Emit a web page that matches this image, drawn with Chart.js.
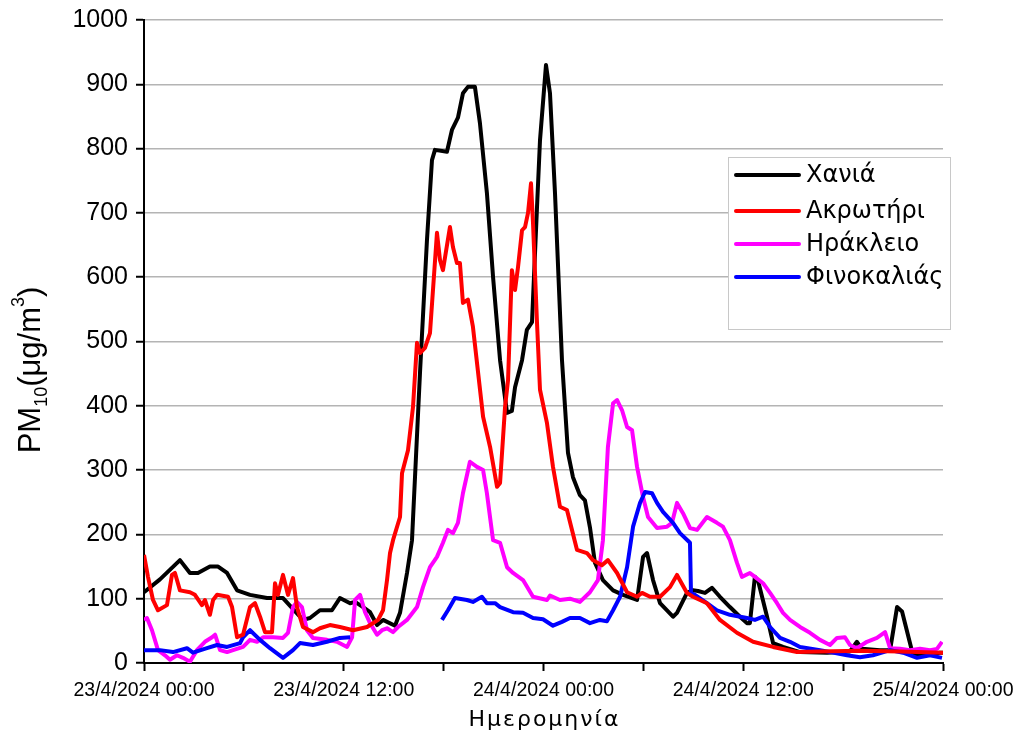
<!DOCTYPE html>
<html>
<head>
<meta charset="utf-8">
<script src="https://cdn.jsdelivr.net/npm/chart.js@4.4.1/dist/chart.umd.min.js"></script>
<style>
    html, body { margin: 0; padding: 0; background: #fff; }
    #wrap { width: 1016px; height: 742px; }
</style>
</head>
<body>
<div id="wrap"><canvas id="pmChart" width="1016" height="742"></canvas></div>
<script>
// ώρες από 23/4/2024 00:00
const chaniaX = [0, 0.96, 2.16, 2.76, 3.24, 3.96, 4.45, 4.99, 5.59, 6.37, 7.39, 8.35, 9.55, 9.97, 10.57, 11.29, 11.77, 12.38, 12.68, 13.16, 13.58, 14.0, 14.36, 15.08, 15.38, 15.8, 16.1, 16.58, 17.0, 17.3, 17.48, 18.2, 18.5, 18.86, 19.16, 19.46, 19.88, 20.18, 20.6, 20.97, 21.39, 21.81, 22.1, 22.29, 22.71, 23.0, 23.31, 23.61, 23.79, 24.15, 24.39, 24.69, 25.11, 25.47, 25.77, 26.19, 26.49, 26.79, 27.09, 27.57, 28.18, 28.78, 29.62, 29.98, 30.22, 30.58, 31.0, 31.78, 32.02, 32.62, 32.98, 33.28, 33.7, 34.12, 34.6, 35.2, 35.8, 36.22, 36.4, 36.7, 36.89, 37.43, 37.79, 38.39, 39.41, 41.03, 42.41, 42.83, 43.13, 44.21, 44.82, 45.24, 45.54, 46.2, 46.8, 47.82, 48];
const chaniaY = [110, 130, 160, 140, 140, 150, 150, 140, 113, 106, 101, 101, 67, 70, 82, 82, 101, 93, 95, 87, 79, 59, 67, 58, 78, 140, 191, 451, 658, 782, 798, 795, 829, 848, 886, 896, 896, 840, 731, 600, 471, 389, 392, 429, 471, 518, 530, 709, 813, 930, 886, 731, 471, 327, 289, 261, 253, 211, 156, 129, 113, 106, 98, 165, 171, 129, 93, 72, 78, 109, 113, 112, 109, 117, 103, 87, 72, 62, 62, 134, 128, 72, 31, 25, 17, 16, 18, 33, 22, 20, 20, 87, 80, 12, 12, 16, 16];

const akrotiriX = [0, 0.24, 0.54, 0.84, 1.38, 1.68, 1.86, 2.16, 2.76, 3.06, 3.48, 3.66, 3.96, 4.15, 4.39, 5.05, 5.29, 5.59, 5.95, 6.37, 6.67, 6.97, 7.27, 7.69, 7.87, 8.05, 8.35, 8.65, 8.95, 9.19, 9.55, 10.15, 10.57, 11.17, 11.77, 12.56, 13.4, 14.06, 14.36, 14.6, 14.78, 14.96, 15.38, 15.5, 15.86, 16.16, 16.4, 16.58, 16.88, 17.18, 17.6, 17.78, 17.96, 18.38, 18.56, 18.8, 18.98, 19.16, 19.46, 19.76, 20.37, 20.79, 21.21, 21.39, 21.69, 21.87, 22.1, 22.29, 22.47, 22.71, 22.89, 23.07, 23.25, 23.37, 23.61, 23.79, 24.21, 24.57, 24.99, 25.41, 26.01, 26.61, 26.97, 27.51, 27.87, 28.42, 29.02, 29.62, 29.92, 30.4, 31.0, 31.6, 32.02, 32.62, 32.98, 33.82, 34.6, 35.62, 36.59, 37.79, 39.23, 40.61, 43.01, 45.42, 48];
const akrotiriY = [168, 134, 98, 82, 90, 137, 140, 113, 110, 106, 90, 98, 75, 98, 106, 103, 87, 40, 44, 87, 93, 72, 48, 48, 124, 106, 137, 106, 132, 87, 56, 48, 54, 59, 56, 51, 56, 67, 82, 129, 171, 191, 227, 295, 331, 398, 498, 482, 490, 513, 669, 627, 611, 678, 647, 622, 622, 560, 565, 523, 383, 336, 274, 280, 398, 440, 611, 580, 616, 673, 678, 700, 746, 684, 529, 425, 373, 305, 243, 238, 176, 171, 160, 152, 160, 140, 110, 103, 109, 103, 103, 118, 137, 109, 103, 93, 67, 47, 33, 25, 17, 18, 19, 18, 16];

const irakleioX = [0, 0.18, 0.48, 0.84, 1.26, 1.56, 1.98, 2.34, 2.76, 3.18, 3.66, 4.09, 4.27, 4.57, 4.99, 5.35, 5.95, 6.37, 6.79, 7.15, 7.75, 8.35, 8.65, 8.95, 9.19, 9.49, 9.79, 10.15, 10.99, 11.59, 12.2, 12.5, 12.68, 12.98, 13.28, 13.58, 14.0, 14.3, 14.6, 14.96, 15.26, 15.8, 16.4, 16.76, 17.18, 17.6, 17.96, 18.26, 18.56, 18.86, 19.16, 19.58, 20.0, 20.37, 20.6, 20.97, 21.39, 21.81, 22.17, 22.77, 23.37, 24.21, 24.39, 24.99, 25.59, 26.19, 26.79, 27.27, 27.57, 27.87, 28.18, 28.42, 28.72, 29.02, 29.32, 29.62, 29.98, 30.28, 30.82, 31.42, 31.72, 32.02, 32.38, 32.8, 33.22, 33.82, 34.42, 34.78, 35.2, 35.62, 35.92, 36.4, 36.7, 37.19, 37.61, 38.03, 38.39, 38.81, 39.41, 40.01, 40.61, 41.21, 41.63, 42.11, 42.41, 42.83, 43.43, 44.03, 44.52, 44.82, 45.42, 46.02, 46.62, 47.22, 47.64, 47.94];
const irakleioY = [67, 70, 51, 20, 12, 5, 12, 8, 2, 20, 33, 40, 44, 20, 17, 20, 25, 36, 33, 40, 40, 39, 47, 87, 95, 87, 51, 39, 36, 33, 25, 40, 98, 106, 79, 62, 44, 51, 54, 48, 56, 67, 87, 118, 149, 165, 187, 207, 202, 218, 264, 313, 305, 300, 264, 191, 187, 149, 140, 129, 103, 98, 105, 98, 100, 95, 110, 129, 191, 336, 404, 409, 393, 367, 362, 305, 258, 227, 210, 212, 218, 249, 233, 210, 207, 227, 218, 212, 191, 156, 134, 140, 134, 124, 109, 93, 78, 67, 56, 47, 36, 28, 39, 40, 28, 23, 33, 39, 48, 23, 22, 20, 22, 20, 22, 33];

// null = κενό στις μετρήσεις
const finokaliaX = [0, 0.96, 1.74, 2.58, 2.94, 3.78, 4.39, 4.99, 5.77, 5.95, 6.37, 6.97, 7.57, 8.35, 8.95, 9.37, 10.15, 10.99, 11.77, 12.38, 15, 17.9, 18.26, 18.68, 19.4, 19.76, 20.3, 20.6, 21.09, 21.39, 22.17, 22.77, 23.37, 23.97, 24.57, 25.11, 25.59, 26.19, 26.79, 27.39, 27.81, 28.18, 28.6, 29.02, 29.38, 29.8, 30.1, 30.52, 30.82, 31.18, 31.78, 32.2, 32.8, 32.86, 33.1, 33.82, 34.42, 35.2, 36.22, 36.7, 37.19, 37.61, 38.21, 38.81, 39.41, 40.61, 42.23, 43.01, 43.79, 44.82, 45.6, 46.44, 47.22, 47.94];
const finokaliaY = [20, 20, 17, 23, 16, 23, 28, 25, 31, 40, 51, 36, 23, 8, 20, 31, 28, 33, 39, 40, null, 67, 82, 101, 98, 95, 103, 93, 93, 87, 79, 78, 70, 68, 58, 64, 70, 70, 62, 67, 65, 82, 103, 149, 212, 249, 266, 264, 249, 235, 218, 202, 187, 109, 106, 93, 82, 75, 70, 67, 72, 56, 39, 33, 25, 20, 12, 9, 12, 20, 16, 8, 12, 8];

const seriesNames = ['Χανιά', 'Ακρωτήρι', 'Ηράκλειο', 'Φινοκαλιάς'];
const seriesColors = ['#000000', '#ff0000', '#ff00ff', '#0000ff'];
const xTickLabels = ['23/4/2024 00:00', '23/4/2024 12:00', '24/4/2024 00:00', '24/4/2024 12:00', '25/4/2024 00:00'];

function toPoints(xs, ys) {
    return xs.map((x, i) => ({ x: x, y: ys[i] }));
}

// δικός μας τίτλος άξονα Y με δείκτες και υπόμνημα σε πλαίσιο
const extrasPlugin = {
    id: 'extras',
    afterDraw(chart) {
        const ctx = chart.ctx;
        const area = chart.chartArea;

        // τίτλος Y: PM10(μg/m3)
        ctx.save();
        ctx.translate(40, 370);
        ctx.rotate(-Math.PI / 2);
        ctx.fillStyle = '#000';
        ctx.textBaseline = 'alphabetic';
        const big = '31px "Liberation Sans", Arial, sans-serif';
        const small = '18px "Liberation Sans", Arial, sans-serif';
        const parts = [
            { t: 'PM', f: big, dy: 0 },
            { t: '10', f: small, dy: 7 },
            { t: '(μg/m', f: big, dy: 0 },
            { t: '3', f: small, dy: -16 },
            { t: ')', f: big, dy: 0 }
        ];
        let total = 0;
        parts.forEach(p => { ctx.font = p.f; total += ctx.measureText(p.t).width; });
        let px = -total / 2;
        parts.forEach(p => {
            ctx.font = p.f;
            ctx.fillText(p.t, px, p.dy);
            px += ctx.measureText(p.t).width;
        });
        ctx.restore();

        // τίτλος X
        ctx.save();
        ctx.fillStyle = '#000';
        ctx.font = '22px "DejaVu Sans", sans-serif';
        ctx.letterSpacing = '2px';
        ctx.textAlign = 'center';
        ctx.textBaseline = 'middle';
        ctx.fillText('Ημερομηνία', (area.left + area.right) / 2 + 1, 720);
        ctx.restore();

        // υπόμνημα
        const lx = 728, ly = 157, lw = 222, lh = 172;
        ctx.save();
        ctx.fillStyle = '#fff';
        ctx.fillRect(lx, ly, lw, lh);
        ctx.strokeStyle = '#c8c8c8';
        ctx.lineWidth = 1;
        ctx.strokeRect(lx + 0.5, ly + 0.5, lw, lh);
        const rows = [175, 211, 244, 277];
        ctx.font = '24px "DejaVu Sans", sans-serif';
        ctx.textBaseline = 'middle';
        chart.data.datasets.forEach((ds, i) => {
            ctx.strokeStyle = ds.borderColor;
            ctx.lineWidth = 4;
            ctx.lineCap = 'round';
            ctx.beginPath();
            ctx.moveTo(736, rows[i]);
            ctx.lineTo(799, rows[i]);
            ctx.stroke();
            ctx.fillStyle = '#000';
            ctx.fillText(ds.label, 806, rows[i] + 1);
        });
        ctx.restore();
    }
};

const pointSets = [
    toPoints(chaniaX, chaniaY),
    toPoints(akrotiriX, akrotiriY),
    toPoints(irakleioX, irakleioY),
    toPoints(finokaliaX, finokaliaY)
];
const drawOrder = [3, 0, 2, 1];

new Chart(document.getElementById('pmChart').getContext('2d'), {
    type: 'line',
    data: {
        datasets: seriesNames.map((name, i) => ({
            label: name,
            data: pointSets[i],
            borderColor: seriesColors[i],
            backgroundColor: seriesColors[i],
            borderWidth: 4,
            borderJoinStyle: 'round',
            pointRadius: 0,
            tension: 0,
            spanGaps: false,
            order: drawOrder[i]
        }))
    },
    options: {
        responsive: false,
        animation: false,
        devicePixelRatio: 1,
        layout: { padding: { top: 20, right: 73, left: 0, bottom: 0 } },
        plugins: {
            legend: { display: false },
            tooltip: { enabled: false }
        },
        scales: {
            x: {
                type: 'linear',
                min: 0,
                max: 48,
                afterFit: (scale) => {
                    scale.height = 79;
                    scale.paddingLeft = 0;
                    scale.paddingRight = 0;
                },
                ticks: {
                    stepSize: 6,
                    autoSkip: false,
                    maxRotation: 0,
                    padding: 8,
                    color: '#000',
                    font: { family: '"Liberation Sans", Arial, sans-serif', size: 19.5 },
                    callback: (v) => (v % 12 === 0 ? xTickLabels[v / 12] : '')
                },
                grid: {
                    drawOnChartArea: false,
                    tickLength: 8,
                    tickColor: '#000',
                    tickWidth: 2
                },
                border: { color: '#000', width: 2 }
            },
            y: {
                min: 0,
                max: 1000,
                afterFit: (scale) => {
                    scale.width = 144;
                    scale.paddingTop = 0;
                    scale.paddingBottom = 0;
                },
                ticks: {
                    stepSize: 100,
                    padding: 8,
                    color: '#000',
                    font: { family: '"Liberation Sans", Arial, sans-serif', size: 25 },
                    callback: (v) => String(v)
                },
                grid: {
                    color: '#b4b4b4',
                    lineWidth: 1.5,
                    tickLength: 8,
                    tickColor: '#000',
                    tickWidth: 2
                },
                border: { color: '#000', width: 2 }
            }
        }
    },
    plugins: [extrasPlugin]
});
</script>
</body>
</html>
